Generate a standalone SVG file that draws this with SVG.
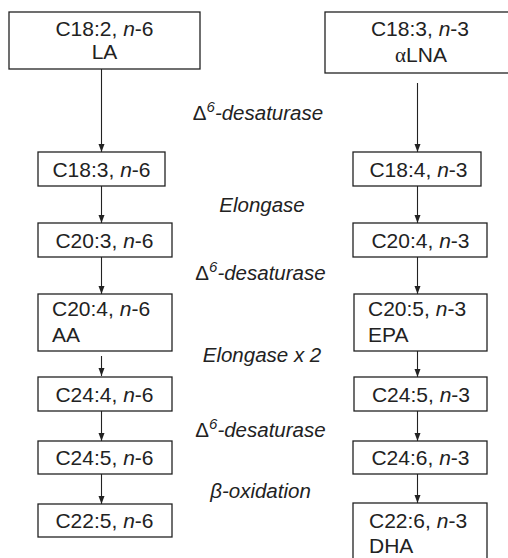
<svg xmlns="http://www.w3.org/2000/svg" width="508" height="558" viewBox="0 0 508 558">
<style>
.box{fill:#fff;stroke:#222;stroke-width:1.3}
.t{font-family:"Liberation Sans",Arial,sans-serif;font-size:21px;fill:#222}
.c{text-anchor:middle}
.lbl{font-family:"Liberation Sans",Arial,sans-serif;font-size:20.5px;font-style:italic;fill:#222;text-anchor:middle}
.up{font-style:normal}
.i{font-style:italic}
.ar{stroke:#222;stroke-width:1.1;fill:none;marker-end:url(#ah)}
</style>
<defs>
<marker id="ah" viewBox="0 0 8 8" refX="8" refY="4" markerWidth="8" markerHeight="8" markerUnits="userSpaceOnUse" orient="auto">
<path d="M0,1 L8,4 L0,7 Z" fill="#222"/>
</marker>
</defs>
<rect width="508" height="558" fill="#fff"/>
<g id="connectors">
<line class="ar" x1="101.5" y1="69" x2="101.5" y2="152"/>
<line class="ar" x1="101.5" y1="186" x2="101.5" y2="223"/>
<line class="ar" x1="101.5" y1="257" x2="101.5" y2="294"/>
<line class="ar" x1="101.5" y1="356" x2="101.5" y2="376"/>
<line class="ar" x1="101.5" y1="411" x2="101.5" y2="441"/>
<line class="ar" x1="101.5" y1="474" x2="101.5" y2="504"/>
<line class="ar" x1="417.5" y1="83" x2="417.5" y2="152"/>
<line class="ar" x1="417.5" y1="186" x2="417.5" y2="223"/>
<line class="ar" x1="417.5" y1="257" x2="417.5" y2="294"/>
<line class="ar" x1="417.5" y1="351" x2="417.5" y2="377"/>
<line class="ar" x1="417.5" y1="411" x2="417.5" y2="441"/>
<line class="ar" x1="417.5" y1="474" x2="417.5" y2="503"/>
</g>
<g id="n6-1"><rect class="box" x="9" y="12" width="191" height="57"/><text class="t c" x="104.5" y="36">C18:2, <tspan class="i">n</tspan>-6</text><text class="t c" x="104.5" y="59">LA</text></g>
<g id="n6-2"><rect class="box" x="38" y="152" width="127" height="34"/><text class="t c" x="101.5" y="177">C18:3, <tspan class="i">n</tspan>-6</text></g>
<g id="n6-3"><rect class="box" x="38" y="223" width="134" height="34"/><text class="t c" x="104.5" y="248">C20:3, <tspan class="i">n</tspan>-6</text></g>
<g id="n6-4"><rect class="box" x="38" y="294" width="134" height="57"/><text class="t" x="52" y="316">C20:4, <tspan class="i">n</tspan>-6</text><text class="t" x="52" y="342">AA</text></g>
<g id="n6-5"><rect class="box" x="38" y="377" width="134" height="34"/><text class="t c" x="104.5" y="402">C24:4, <tspan class="i">n</tspan>-6</text></g>
<g id="n6-6"><rect class="box" x="38" y="441" width="134" height="33"/><text class="t c" x="104.5" y="465">C24:5, <tspan class="i">n</tspan>-6</text></g>
<g id="n6-7"><rect class="box" x="38" y="504" width="134" height="33"/><text class="t c" x="104.5" y="528">C22:5, <tspan class="i">n</tspan>-6</text></g>
<g id="n3-1"><rect class="box" x="325" y="12" width="190" height="61"/><text class="t c" x="420" y="36">C18:3, <tspan class="i">n</tspan>-3</text><text class="t c" x="421" y="62"><tspan font-family="'Liberation Serif',serif">α</tspan>LNA</text></g>
<g id="n3-2"><rect class="box" x="353" y="152" width="128" height="34"/><text class="t c" x="418.5" y="177">C18:4, <tspan class="i">n</tspan>-3</text></g>
<g id="n3-3"><rect class="box" x="353" y="223" width="134" height="34"/><text class="t c" x="420.5" y="248">C20:4, <tspan class="i">n</tspan>-3</text></g>
<g id="n3-4"><rect class="box" x="354" y="294" width="133" height="57"/><text class="t" x="368" y="316">C20:5, <tspan class="i">n</tspan>-3</text><text class="t" x="368" y="342">EPA</text></g>
<g id="n3-5"><rect class="box" x="354" y="377" width="133" height="34"/><text class="t c" x="421" y="402">C24:5, <tspan class="i">n</tspan>-3</text></g>
<g id="n3-6"><rect class="box" x="353" y="441" width="134" height="33"/><text class="t c" x="420.5" y="465">C24:6, <tspan class="i">n</tspan>-3</text></g>
<g id="n3-7"><rect class="box" x="353" y="503" width="134" height="60"/><text class="t" x="369" y="528">C22:6, <tspan class="i">n</tspan>-3</text><text class="t" x="369" y="553">DHA</text></g>
<g id="labels">
<text class="lbl" x="258" y="120"><tspan class="up">Δ</tspan><tspan dy="-8" font-size="15">6</tspan><tspan dy="8">-desaturase</tspan></text>
<text class="lbl" x="262" y="212">Elongase</text>
<text class="lbl" x="260.5" y="280"><tspan class="up">Δ</tspan><tspan dy="-8" font-size="15">6</tspan><tspan dy="8">-desaturase</tspan></text>
<text class="lbl" x="262" y="362">Elongase x 2</text>
<text class="lbl" x="260.5" y="437"><tspan class="up">Δ</tspan><tspan dy="-8" font-size="15">6</tspan><tspan dy="8">-desaturase</tspan></text>
<text class="lbl" x="260.5" y="498">β-oxidation</text>
</g>
</svg>
